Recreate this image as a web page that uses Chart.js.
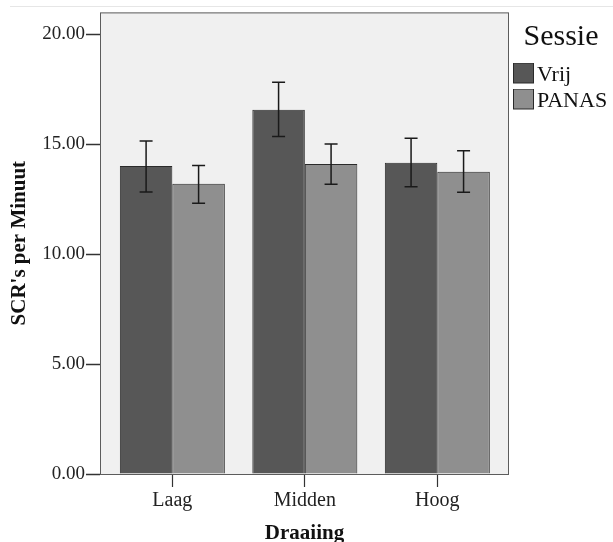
<!DOCTYPE html>
<html>
<head>
<meta charset="utf-8">
<script src="https://cdn.jsdelivr.net/npm/chart.js@4.4.1/dist/chart.umd.min.js"></script>
<style>
  html, body { margin: 0; padding: 0; background: #fff; }
  #wrap { position: relative; width: 613px; height: 542px; }
  #topline { position: absolute; left: 10px; right: 0; top: 6px; height: 1px; background: #e6e6e6; }
</style>
</head>
<body>
<div id="wrap">
  <canvas id="scrChart" width="613" height="542"></canvas>
  <div id="topline"></div>
</div>
<script>
const categories = ["Laag", "Midden", "Hoog"];
const seriesNames = ["Vrij", "PANAS"];
const seriesColors = ["#575757", "#8f8f8f"];

const vrijMean = [14.01, 16.57, 14.16];
const vrijLow = [12.83, 15.35, 13.07];
const vrijHigh = [15.15, 17.82, 15.27];

const panasMean = [13.20, 14.10, 13.75];
const panasLow = [12.32, 13.18, 12.82];
const panasHigh = [14.03, 15.01, 14.71];

const yTicks = [0, 5, 10, 15, 20];

const serif = "'Liberation Serif', 'Times New Roman', serif";
const barEdge = "#2a2a2a";

// legend swatch: 21px square in the top right of a 29x26 image
function swatch(color) {
    const c = document.createElement("canvas");
    c.width = 29;
    c.height = 26;
    const g = c.getContext("2d");
    g.fillStyle = color;
    g.fillRect(8, 0, 21, 21);
    g.strokeStyle = barEdge;
    g.lineWidth = 1;
    g.strokeRect(8.5, 0.5, 20, 20);
    return c;
}
const swatches = seriesColors.map(swatch);

// plot background + frame
const plotFrame = {
    id: "plotFrame",
    beforeDatasetsDraw(chart) {
        const { ctx, chartArea: a } = chart;
        ctx.save();
        ctx.fillStyle = "#f0f0f0";
        ctx.fillRect(a.left, a.top, a.right - a.left, a.bottom - a.top);
        ctx.strokeStyle = "#5c5c5c";
        ctx.lineWidth = 1;
        ctx.strokeRect(a.left + 0.5, a.top + 0.5, a.right - a.left - 1, a.bottom - a.top);
        ctx.restore();
    }
};

// error bars from the low/high arrays
const errorBars = {
    id: "errorBars",
    afterDatasetsDraw(chart) {
        const { ctx } = chart;
        const y = chart.scales.y;
        ctx.save();
        ctx.strokeStyle = "#1a1a1a";
        ctx.lineWidth = 1.5;
        chart.data.datasets.forEach((ds, i) => {
            chart.getDatasetMeta(i).data.forEach((bar, j) => {
                const yHi = y.getPixelForValue(ds.errHigh[j]);
                const yLo = y.getPixelForValue(ds.errLow[j]);
                const x = bar.x;
                const cap = 6.5;
                ctx.beginPath();
                ctx.moveTo(x, yHi); ctx.lineTo(x, yLo);
                ctx.moveTo(x - cap, yHi); ctx.lineTo(x + cap, yHi);
                ctx.moveTo(x - cap, yLo); ctx.lineTo(x + cap, yLo);
                ctx.stroke();
            });
        });
        ctx.restore();
    }
};

const data = {
    labels: categories,
    datasets: [
        {
            label: seriesNames[0],
            data: vrijMean,
            errLow: vrijLow,
            errHigh: vrijHigh,
            backgroundColor: seriesColors[0],
            borderColor: barEdge,
            borderWidth: 1
        },
        {
            label: seriesNames[1],
            data: panasMean,
            errLow: panasLow,
            errHigh: panasHigh,
            backgroundColor: seriesColors[1],
            borderColor: barEdge,
            borderWidth: 1
        }
    ]
};

const config = {
    type: "bar",
    data: data,
    options: {
        responsive: false,
        animation: false,
        layout: { padding: { top: 12, left: 0, right: 0, bottom: 0 } },
        datasets: { bar: { categoryPercentage: 0.7925, barPercentage: 1 } },
        scales: {
            x: {
                grid: { display: true, drawOnChartArea: false, offset: false, tickLength: 13, color: "#333", tickWidth: 1.2 },
                border: { display: false },
                ticks: { color: "#222", padding: 2, font: { family: serif, size: 20 } },
                title: { display: true, text: "Draaiing", color: "#111", font: { family: serif, size: 21, weight: "bold", lineHeight: 0.8 }, padding: { top: 0, bottom: 0 } },
                afterFit: s => { s.height = 68; },
                afterBuildTicks: s => { s._startValue = -0.546; s._valueRange = 3.087; }
            },
            y: {
                min: 0,
                max: 21,
                afterBuildTicks: s => { s.ticks = yTicks.map(v => ({ value: v })); },
                grid: { drawOnChartArea: false, tickLength: 14, color: "#333", tickWidth: 1.5 },
                border: { display: false },
                ticks: { color: "#222", padding: 1, font: { family: serif, size: 19 }, callback: v => v.toFixed(2) },
                title: { display: true, text: "SCR's per Minuut", color: "#111", font: { family: serif, size: 21, weight: "bold", lineHeight: 1.2 }, padding: { top: 7, bottom: 0 } },
                afterFit: s => { s.width = 100; }
            }
        },
        plugins: {
            tooltip: { enabled: false },
            legend: {
                position: "right",
                align: "start",
                maxWidth: 104,
                title: { display: true, text: "Sessie", color: "#111", font: { family: serif, size: 30, lineHeight: 1.2 }, padding: { top: 10, bottom: 2.5 } },
                labels: {
                    usePointStyle: true,
                    pointStyleWidth: 13,
                    boxHeight: 21,
                    padding: 4,
                    color: "#111",
                    font: { family: serif, size: 22 },
                    generateLabels: chart => {
                        const items = Chart.defaults.plugins.legend.labels.generateLabels(chart);
                        items.forEach((it, i) => { it.pointStyle = swatches[i]; });
                        return items;
                    }
                }
            }
        }
    },
    plugins: [plotFrame, errorBars]
};

const myChart = new Chart(document.getElementById("scrChart"), config);
</script>
</body>
</html>
